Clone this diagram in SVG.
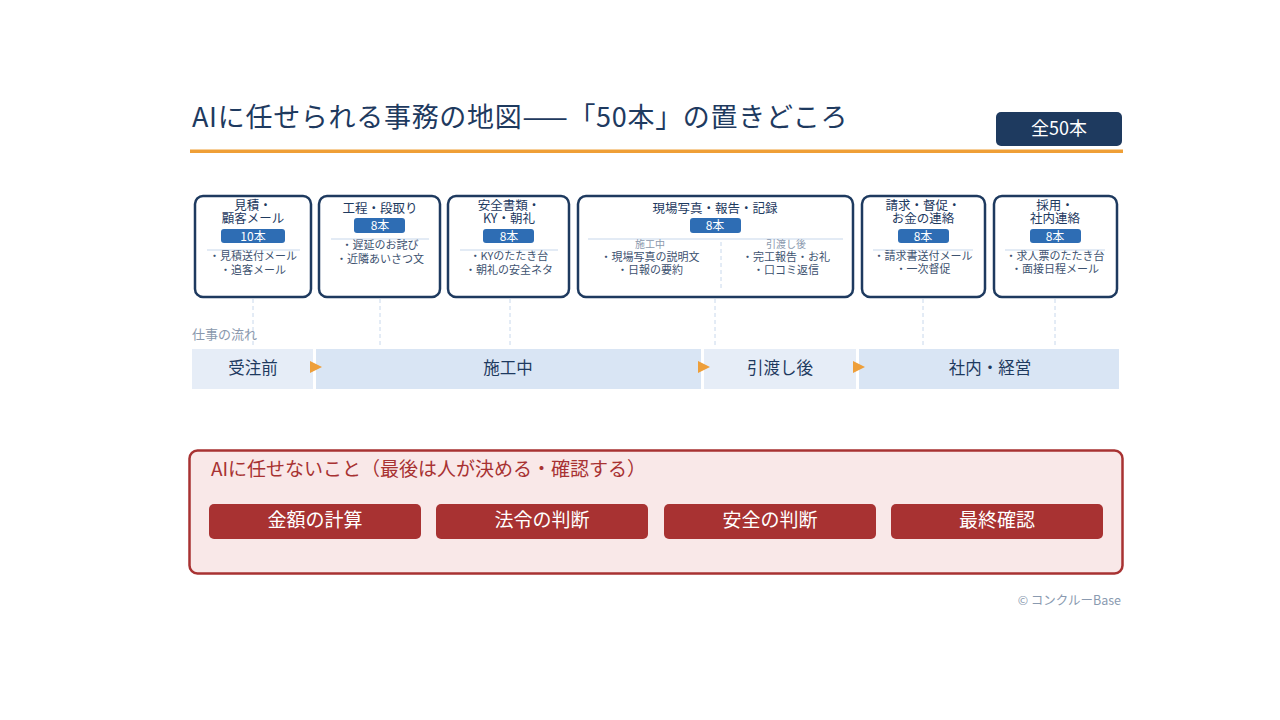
<svg xmlns="http://www.w3.org/2000/svg" width="1280" height="720" viewBox="0 0 1280 720">
<style>
text{font-family:"Noto Sans CJK JP","Noto Sans",sans-serif}
.card{fill:#fff;stroke:#1e3a5f;stroke-width:2.5}
.ct{font-size:12.5px;fill:#1e3a5f;text-anchor:middle}
.badge{fill:#2e6db4}
.bt{font-size:12px;fill:#fff;text-anchor:middle}
.sep{stroke:#c8d8ec;stroke-width:1.2}
.li{font-size:11px;fill:#3d5270;text-anchor:middle}
.sub{font-size:10px;fill:#8a98ad;text-anchor:middle}
.dash{stroke:#c8d8ec;stroke-width:1;stroke-dasharray:4 3}
.flowA{fill:#e6edf7}
.flowB{fill:#d9e5f4}
.ft{font-size:16.5px;fill:#1e3a5f;text-anchor:middle}
.arr{fill:#ee9f3a}
.nb{fill:#a83232}
.nt{font-size:19px;fill:#fff;text-anchor:middle}
</style>
<rect width="1280" height="720" fill="#fff"/>
<g id="header">
<text x="192" y="127" font-size="27" letter-spacing="0.7" fill="#1e3a5f">AIに任せられる事務の地図——「50本」の置きどころ</text>
<rect x="190" y="149.5" width="933" height="3.5" fill="#ef9f36"/>
<rect x="996" y="112" width="126" height="34" rx="5" fill="#1e3a5f"/>
<text x="1059" y="135" font-size="18" fill="#fff" text-anchor="middle">全50本</text>
</g>
<g id="connectors">
<line class="dash" x1="253" y1="299" x2="253" y2="347"/>
<line class="dash" x1="380" y1="299" x2="380" y2="347"/>
<line class="dash" x1="510" y1="299" x2="510" y2="347"/>
<line class="dash" x1="715" y1="299" x2="715" y2="347"/>
<line class="dash" x1="923" y1="299" x2="923" y2="347"/>
<line class="dash" x1="1055" y1="299" x2="1055" y2="347"/>
</g>
<g id="card-mitsumori">
<rect class="card" x="195" y="196" width="116" height="101" rx="8"/>
<text class="ct" x="253" y="210">見積・</text>
<text class="ct" x="253" y="223">顧客メール</text>
<rect class="badge" x="221" y="229" width="64" height="14" rx="3"/>
<text class="bt" x="253" y="240.5">10本</text>
<line class="sep" x1="207" y1="250" x2="300" y2="250"/>
<text class="li" x="253" y="260">・見積送付メール</text>
<text class="li" x="253" y="274">・追客メール</text>
</g>
<g id="card-koutei">
<rect class="card" x="319" y="196" width="121" height="101" rx="8"/>
<text class="ct" x="380" y="213">工程・段取り</text>
<rect class="badge" x="354" y="218" width="51" height="15" rx="3"/>
<text class="bt" x="380" y="230">8本</text>
<line class="sep" x1="331" y1="239" x2="429" y2="239"/>
<text class="li" x="380" y="249">・遅延のお詫び</text>
<text class="li" x="380" y="263">・近隣あいさつ文</text>
</g>
<g id="card-anzen">
<rect class="card" x="448" y="196" width="121" height="101" rx="8"/>
<text class="ct" x="509" y="210">安全書類・</text>
<text class="ct" x="509" y="223">KY・朝礼</text>
<rect class="badge" x="483" y="229" width="51" height="14" rx="3"/>
<text class="bt" x="509" y="240.5">8本</text>
<line class="sep" x1="460" y1="250" x2="558" y2="250"/>
<text class="li" x="509" y="260">・KYのたたき台</text>
<text class="li" x="509" y="274">・朝礼の安全ネタ</text>
</g>
<g id="card-genba">
<rect class="card" x="578" y="196" width="275" height="101" rx="8"/>
<text class="ct" x="715" y="213">現場写真・報告・記録</text>
<rect class="badge" x="690" y="218" width="51" height="15" rx="3"/>
<text class="bt" x="715" y="230">8本</text>
<line class="sep" x1="588" y1="239" x2="843" y2="239"/>
<line class="dash" x1="721" y1="242" x2="721" y2="290"/>
<text class="sub" x="650" y="248">施工中</text>
<text class="li" x="650" y="261">・現場写真の説明文</text>
<text class="li" x="650" y="274">・日報の要約</text>
<text class="sub" x="786" y="248">引渡し後</text>
<text class="li" x="786" y="261">・完工報告・お礼</text>
<text class="li" x="786" y="274">・口コミ返信</text>
</g>
<g id="card-seikyu">
<rect class="card" x="862" y="196" width="123" height="101" rx="8"/>
<text class="ct" x="923" y="210">請求・督促・</text>
<text class="ct" x="923" y="223">お金の連絡</text>
<rect class="badge" x="898" y="229" width="51" height="14" rx="3"/>
<text class="bt" x="923" y="240.5">8本</text>
<line class="sep" x1="873" y1="250" x2="973" y2="250"/>
<text class="li" x="923" y="260">・請求書送付メール</text>
<text class="li" x="923" y="273">・一次督促</text>
</g>
<g id="card-saiyou">
<rect class="card" x="994" y="196" width="123" height="101" rx="8"/>
<text class="ct" x="1055" y="210">採用・</text>
<text class="ct" x="1055" y="223">社内連絡</text>
<rect class="badge" x="1030" y="229" width="51" height="14" rx="3"/>
<text class="bt" x="1055" y="240.5">8本</text>
<line class="sep" x1="1005" y1="250" x2="1105" y2="250"/>
<text class="li" x="1055" y="260">・求人票のたたき台</text>
<text class="li" x="1055" y="273">・面接日程メール</text>
</g>
<g id="flow">
<text x="192" y="339" font-size="13" fill="#8a98ad">仕事の流れ</text>
<rect class="flowA" x="192" y="349" width="121" height="40"/>
<text class="ft" x="253" y="374">受注前</text>
<rect class="flowB" x="316" y="349" width="385" height="40"/>
<text class="ft" x="508" y="374">施工中</text>
<rect class="flowA" x="704" y="349" width="152" height="40"/>
<text class="ft" x="780" y="374">引渡し後</text>
<rect class="flowB" x="859" y="349" width="260" height="40"/>
<text class="ft" x="990" y="374">社内・経営</text>
<polygon class="arr" points="310,361 322,367 310,373"/>
<polygon class="arr" points="698,361 710,367 698,373"/>
<polygon class="arr" points="853,361 865,367 853,373"/>
</g>
<g id="not-ai">
<rect x="189.5" y="450.5" width="933" height="123" rx="8" fill="#f9e8e8" stroke="#a83232" stroke-width="2.5"/>
<text x="211" y="476" font-size="19" fill="#a83232">AIに任せないこと（最後は人が決める・確認する）</text>
<rect class="nb" x="209" y="504" width="212" height="35" rx="5"/>
<text class="nt" x="315" y="527">金額の計算</text>
<rect class="nb" x="436" y="504" width="212" height="35" rx="5"/>
<text class="nt" x="542" y="527">法令の判断</text>
<rect class="nb" x="664" y="504" width="212" height="35" rx="5"/>
<text class="nt" x="770" y="527">安全の判断</text>
<rect class="nb" x="891" y="504" width="212" height="35" rx="5"/>
<text class="nt" x="997" y="527">最終確認</text>
</g>
<text x="1121" y="605" font-size="12.5" fill="#8a9ab0" text-anchor="end">© コンクルーBase</text>
</svg>
